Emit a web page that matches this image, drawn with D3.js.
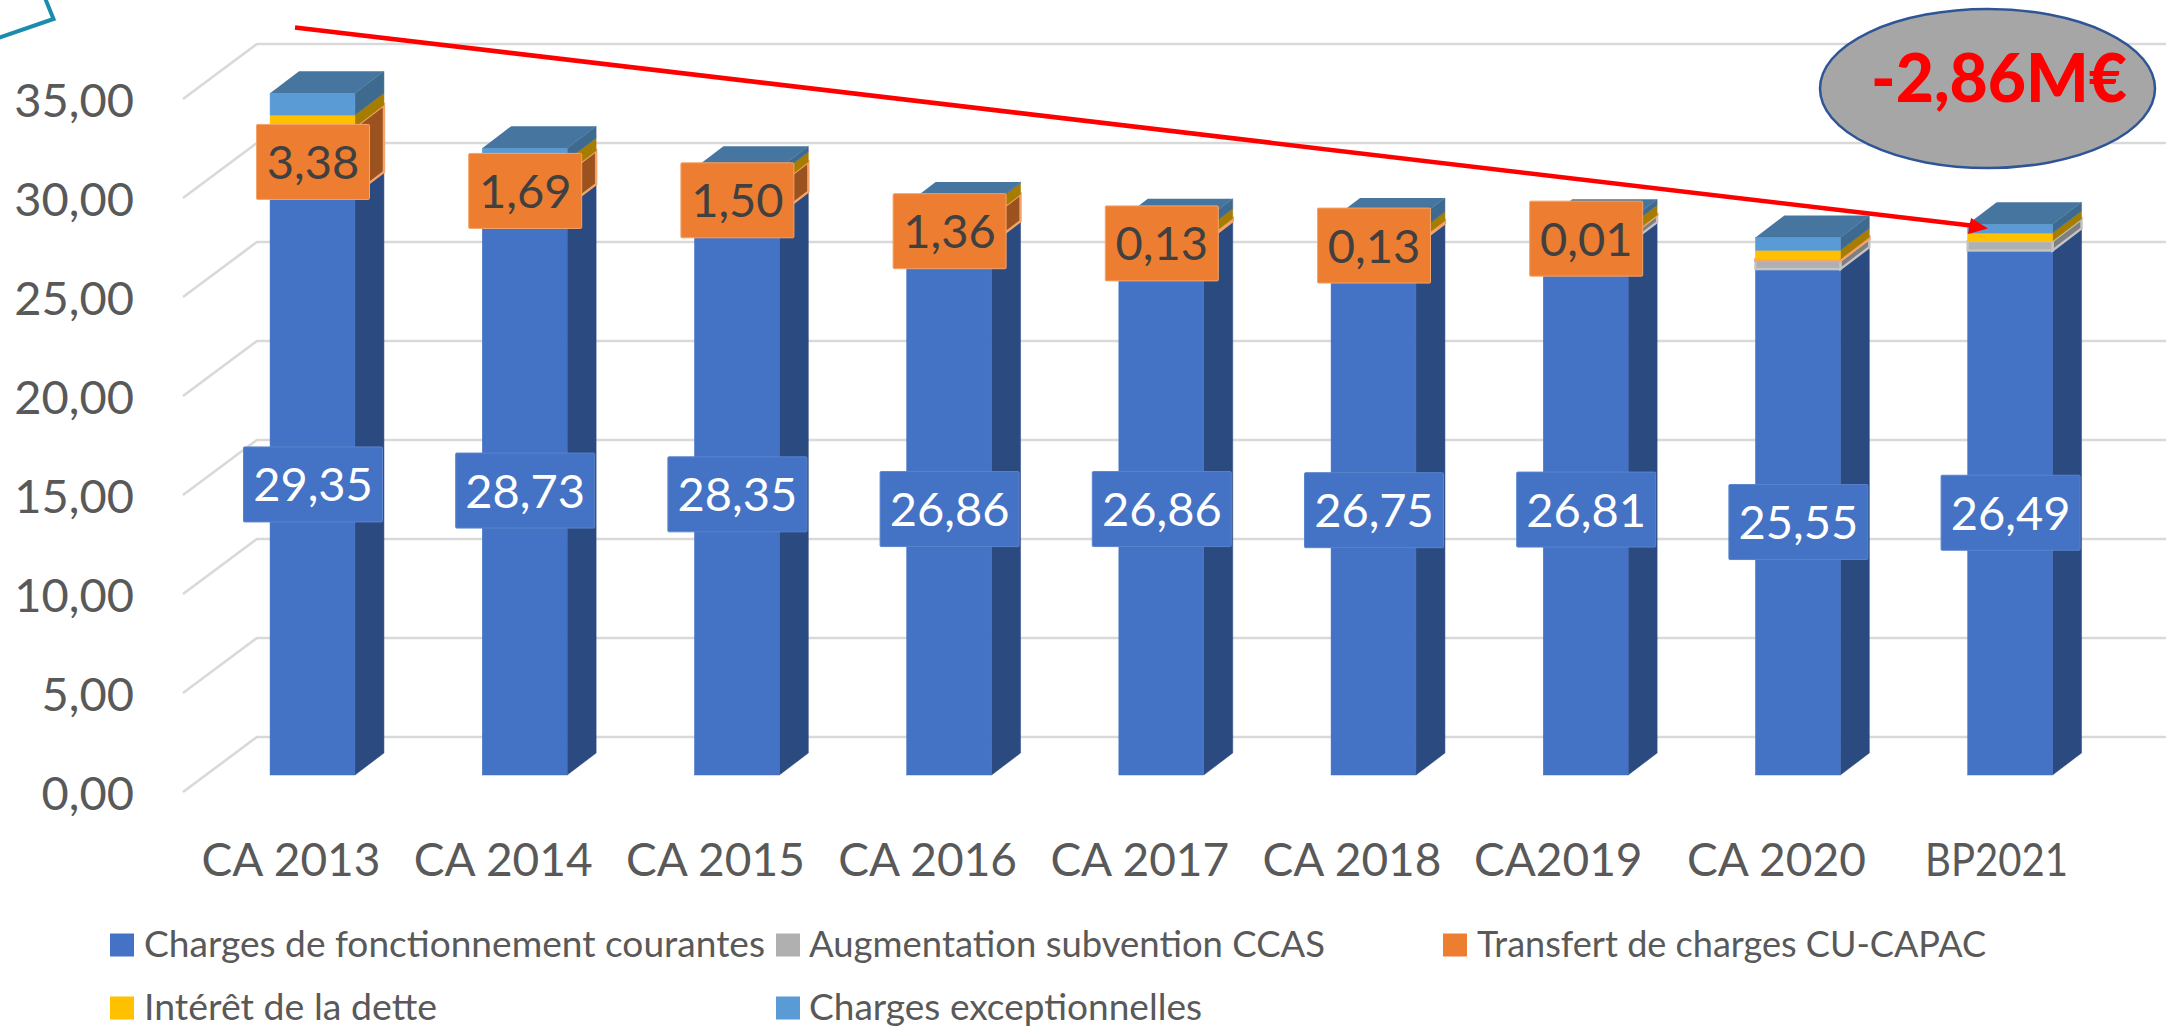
<!DOCTYPE html>
<html><head><meta charset="utf-8">
<style>html,body{margin:0;padding:0;background:#fff}svg{display:block}text{font-family:Lato,"Open Sans",sans-serif}</style>
<script src="https://cdn.jsdelivr.net/npm/d3@7/dist/d3.min.js"></script>
</head><body><svg id="c" width="2172" height="1029"></svg>
<script>
const categories = ["CA 2013","CA 2014","CA 2015","CA 2016","CA 2017","CA 2018","CA2019","CA 2020","BP2021"];
const courantes  = [29.35,28.73,28.35,26.86,26.86,26.75,26.81,25.55,26.49];
const ccas       = [0,0,0,0,0,0,0.35,0.42,0.48];
const transfert  = [3.38,1.69,1.50,1.36,0.13,0.13,0.01,0.08,0];
const interet    = [0.60,0.64,0.50,0.57,0.50,0.45,0.50,0.45,0.40];
const except     = [1.10,0.60,0.30,0.05,0.50,0.70,0.30,0.65,0.45];
const courantesLabels = ["29,35","28,73","28,35","26,86","26,86","26,75","26,81","25,55","26,49"];
const transfertLabels = ["3,38","1,69","1,50","1,36","0,13","0,13","0,01",null,null];
const yTicks = [0,5,10,15,20,25,30,35];
const seriesNames = ["Charges de fonctionnement courantes","Augmentation subvention CCAS","Transfert de charges CU-CAPAC","Intérêt de la dette","Charges exceptionnelles"];
const seriesFill = ["#4472c4","#b0b0b0","#ed7d31","#ffc000","#5b9bd5"];
const seriesSide = ["#2a4a80","#7f7f7f","#9c521f","#a67d00","#3f6a90"];
const seriesEdge = [null,"#c4c4c4","#f4a468",null,null];
const topFill = "#46769f";
const annotation = "-2,86M€";

const svg = d3.select("#c");
const depthWall = {x:74,y:-55}, depthBar = {x:29,y:-22};
const yWall = d3.scaleLinear().domain([0,35]).range([792,99]);
const yBar  = d3.scaleLinear().domain([0,35]).range([775,82]);
const x = d3.scaleBand().domain(categories).range([206.4,2116.2]).paddingInner(0.6).paddingOuter(0.3);
const comma = v => d3.format(".2f")(v).replace(".",",");

// gridlines on the back wall + side-wall diagonals
const grid = svg.append("g");
yTicks.forEach(t=>{
  const y0=yWall(t), y1=y0+depthWall.y, x0=183, x1=x0+depthWall.x;
  grid.append("path").attr("d",`M${x0},${y0}L${x1},${y1}L2166,${y1}`).attr("fill","none").attr("stroke","#d9d9d9").attr("stroke-width",2.6);
});

// y axis
const yAxis = svg.append("g").attr("transform","translate(134,1)")
  .call(d3.axisLeft(yWall).tickValues(yTicks).tickFormat(comma).tickSize(0).tickPadding(0));
yAxis.select(".domain").remove();
yAxis.selectAll("text").attr("font-size",47).attr("fill","#595959").style("font-family","Lato").attr("dy","0.36em");

// x axis
const xAxis = svg.append("g").attr("transform","translate(-21.5,876)")
  .call(d3.axisBottom(x).tickSize(0).tickPadding(0));
xAxis.select(".domain").remove();
xAxis.selectAll("text").attr("font-size",46).attr("fill","#595959").style("font-family","Lato").attr("y",0).attr("dy",0)
  .attr("dx",d=>d==="CA2019"?-6:d==="BP2021"?8:0)
  .filter(d=>d==="BP2021").attr("textLength",143).attr("lengthAdjust","spacingAndGlyphs");

// stacked 3D bars
const seriesData = [courantes,ccas,transfert,interet,except];
const stackRows = categories.map((c,i)=>{const o={cat:c};seriesNames.forEach((n,s)=>o[n]=seriesData[s][i]);return o;});
const stacked = d3.stack().keys(seriesNames)(stackRows);
categories.forEach((c,i)=>{
  const g = svg.append("g");
  const xl=x(c), xr=xl+x.bandwidth();
  stacked.forEach((layer,s)=>{
    const [v0,v1]=layer[i]; if(v1-v0<=0) return;
    const yb=yBar(v0), yt=yBar(v1), edge=seriesEdge[s];
    g.append("path").attr("d",`M${xr},${yb}L${xr+depthBar.x},${yb+depthBar.y}L${xr+depthBar.x},${yt+depthBar.y}L${xr},${yt}Z`)
      .attr("fill",seriesSide[s]).attr("stroke",edge||seriesSide[s]).attr("stroke-width",edge?2.4:0.5);
    g.append("rect").attr("x",xl).attr("y",yt).attr("width",x.bandwidth()).attr("height",yb-yt)
      .attr("fill",seriesFill[s]).attr("stroke",edge||seriesFill[s]).attr("stroke-width",edge?2.4:0.5);
  });
  const top=yBar(stacked[4][i][1]);
  g.append("path").attr("d",`M${xl},${top}L${xl+depthBar.x},${top+depthBar.y}L${xr+depthBar.x},${top+depthBar.y}L${xr},${top}Z`).attr("fill",topFill);
});

// data labels
function label(text,cx,cy,w,fill,color,stroke){
  svg.append("rect").attr("x",cx-w/2).attr("y",cy-37.5).attr("width",w).attr("height",75).attr("rx",1)
    .attr("fill",fill).attr("stroke",stroke).attr("stroke-width",1);
  svg.append("text").attr("x",cx).attr("y",cy+17).attr("text-anchor","middle").attr("font-size",47).attr("fill",color).text(text);
}
categories.forEach((c,i)=>{
  const cx=x(c)+x.bandwidth()/2;
  label(courantesLabels[i],cx+0.5,yBar(stacked[0][i][1]/2),139,"#4472c4","#ffffff","#5a84cc");
  if(transfertLabels[i]){
    const [a,b]=stacked[2][i];
    label(transfertLabels[i],cx+0.5,yBar((a+b)/2)+1.5,113,"#ed7d31","#404040","#f4a468");
  }
});

// legend
const legendPos=[[110,144,945,621],[776,809,945,516],[1443,1477,945,509],[110,144,1008,293],[776,809,1008,393]];
seriesNames.forEach((n,s)=>{
  const [sx,tx,cy,tw]=legendPos[s];
  svg.append("rect").attr("x",sx).attr("y",cy-11.5).attr("width",24).attr("height",23).attr("fill",seriesFill[s]);
  svg.append("text").attr("x",tx).attr("y",cy+12).attr("font-size",37).attr("fill","#595959")
    .attr("textLength",tw).attr("lengthAdjust","spacingAndGlyphs").text(n);
});

// top-left decoration
svg.append("path").attr("d","M45,-2L53.5,19L-2,38").attr("fill","none").attr("stroke","#1a8cad").attr("stroke-width",4);

// annotation: ellipse and trend arrow
svg.append("ellipse").attr("cx",1987.5).attr("cy",88.5).attr("rx",167.5).attr("ry",79.5)
  .attr("fill","#a6a6a6").attr("stroke","#2f5597").attr("stroke-width",2.5);
svg.append("text").attr("x",1871).attr("y",102).attr("font-size",67).attr("font-weight",900).attr("fill","#ff0000")
  .attr("textLength",256).attr("lengthAdjust","spacingAndGlyphs").text(annotation);
svg.append("line").attr("x1",295).attr("y1",27.5).attr("x2",1975).attr("y2",226).attr("stroke","#ff0000").attr("stroke-width",4.6);
svg.append("path").attr("d","M1988,228.5L1971,218L1968,234Z").attr("fill","#ff0000");
</script></body></html>
